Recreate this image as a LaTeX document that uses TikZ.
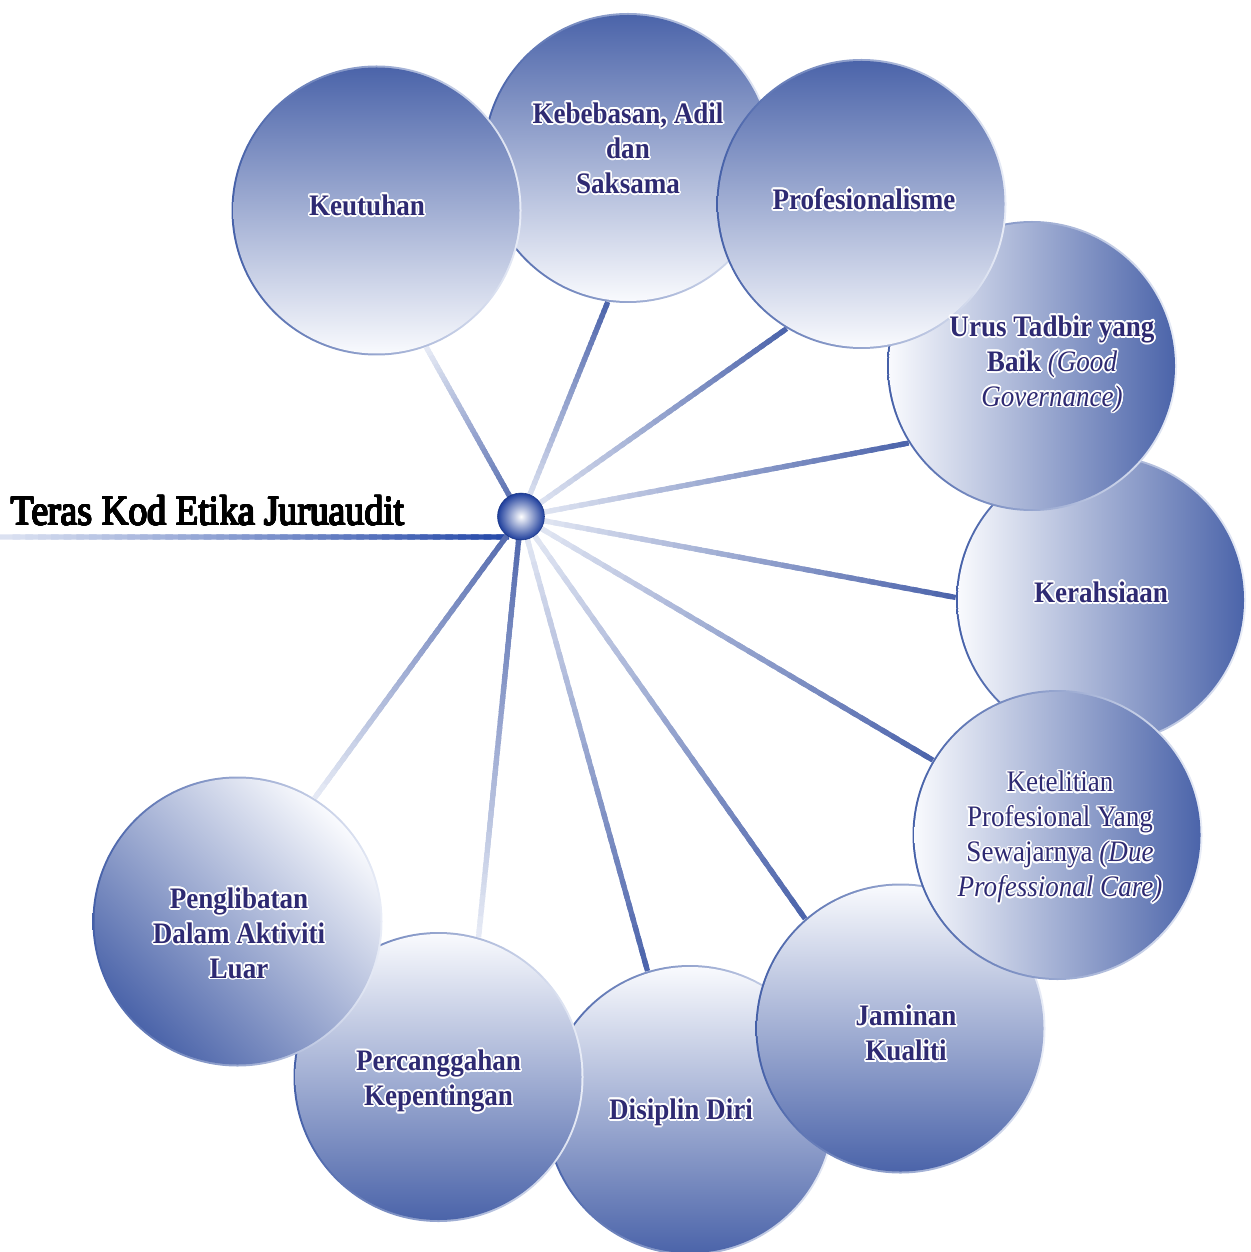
\documentclass[tikz,border=0pt]{standalone}
\usepackage{fontspec}
\setmainfont{Liberation Serif}
\usepackage[copies]{contour}
\usetikzlibrary{calc}
\usetikzlibrary{backgrounds}
\definecolor{bubbledark}{HTML}{4A63A9}
\definecolor{bubblelight}{HTML}{FAFBFE}
\definecolor{rimdark}{HTML}{4560A8}
\definecolor{rimlight}{HTML}{E9EDF7}
\definecolor{spokedark}{HTML}{4A62AA}
\definecolor{spokelight}{HTML}{E8ECF6}
\definecolor{titledark}{HTML}{2347A8}
\definecolor{titlelight}{HTML}{DDE3F2}
\definecolor{hubblue}{HTML}{1E3E9C}
\definecolor{textnavy}{HTML}{2E2A72}
\contourlength{0.9pt}
\newcommand{\ct}[1]{\scalebox{1}[1.1]{\contour{white}{#1}}}
\tikzstyle{bubbletext}=[text=textnavy, align=center, inner sep=0pt, font={\fontsize{15.4}{19.9}\selectfont\bfseries}]
\tikzstyle{spoke}=[line width=1.05mm, line cap=butt]
\tikzset{bubble/.style={circle, minimum size=5.8cm, inner sep=0pt, left color=rimdark, right color=rimlight,
    path picture={\shade[top color=bubbledark, bottom color=bubblelight, shading angle=#1] (path picture bounding box.center) circle (2.86);}}}
% gradient line: start, end, colour at start, colour at end
\newcommand{\spoke}[4]{%
  \foreach \i in {0,...,39}{
    \pgfmathsetmacro{\sa}{\i/40}
    \pgfmathsetmacro{\sb}{min(1,(\i+1.6)/40)}
    \pgfmathtruncatemacro{\pc}{100*(\i+0.5)/40}
    \draw[spoke, #4!\pc!#3] ($(#1)!\sa!(#2)$) -- ($(#1)!\sb!(#2)$);
  }}

\begin{document}
\begin{tikzpicture}

    \useasboundingbox (0,0) rectangle (25,-25.04);

    % circles, back to front
    \node[bubble=0] (kebebasan) at (12.56,-3.16) {};
    \node[bubble=0] (keutuhan) at (7.53,-4.21) {};
    \node[bubble=-90] (kerahsiaan) at (22.02,-12.00) {};
    \node[bubble=-90] (urus) at (20.64,-7.32) {};
    \node[bubble=0] (profesional) at (17.23,-4.08) {};
    \node[bubble=180] (disiplin) at (13.80,-22.20) {};
    \node[bubble=180] (jaminan) at (18.01,-20.57) {};
    \node[bubble=-90] (ketelitian) at (21.15,-16.70) {};
    \node[bubble=180] (percanggahan) at (8.77,-21.54) {};
    \node[bubble=135] (penglibatan) at (4.75,-18.43) {};

    % texts
    \node[bubbletext] (keutuhan-t) at ($(keutuhan)+(-0.19,0.09)$) {\ct{Keutuhan}};
    \node[bubbletext] (kebebasan-t) at ($(kebebasan)+(0,0.18)$) {\ct{Kebebasan, Adil}\\\ct{dan}\\\ct{Saksama}};
    \node[bubbletext] (profesional-t) at ($(profesional)+(0.05,0.08)$) {\ct{Profesionalisme}};
    \node[bubbletext] (urus-t) at ($(urus)+(0.40,0.02)$) {\ct{Urus Tadbir yang}\\\ct{Baik {\mdseries\itshape (Good}}\\\ct{\mdseries\itshape Governance)}};
    \node[bubbletext] (kerahsiaan-t) at ($(kerahsiaan)+(0,0.14)$) {\ct{Kerahsiaan}};
    \node[bubbletext, font={\fontsize{15.4}{19.9}\selectfont}] (ketelitian-t) at ($(ketelitian)+(0.05,-0.06)$)
        {\ct{Ketelitian}\\\ct{Profesional Yang}\\\ct{Sewajarnya \textit{(Due}}\\\ct{\itshape Professional Care)}};
    \node[bubbletext] (jaminan-t) at ($(jaminan)+(0.11,-0.11)$) {\ct{Jaminan}\\\ct{Kualiti}};
    \node[bubbletext] (disiplin-t) at ($(disiplin)+(-0.18,-0.06)$) {\ct{Disiplin Diri}};
    \node[bubbletext] (percanggahan-t) at ($(percanggahan)+(0,-0.1)$) {\ct{Percanggahan}\\\ct{Kepentingan}};
    \node[bubbletext] (penglibatan-t) at ($(penglibatan)+(0.03,-0.25)$) {\ct{Penglibatan}\\\ct{Dalam Aktiviti}\\\ct{Luar}};

    % title
    \node[anchor=base west, inner sep=0pt, font={\fontsize{21.4}{25}\selectfont}] (teras) at (0.22,-10.50)
        {\contourlength{0.35pt}\scalebox{1}[1.12]{\contour{black}{Teras Kod Etika Juruaudit}}};

    % centre ball
    \node[circle, minimum size=0.94cm, inner sep=0pt, inner color=white, outer color=hubblue, draw=hubblue!85!black, line width=0.3pt] (hub) at (10.42,-10.33) {};

    \begin{scope}[on background layer]
        \coordinate (teras-s) at (0,-10.74);
        \spoke{teras-s}{hub.240}{titlelight}{titledark}

        \spoke{hub}{keutuhan.290}{spokedark}{spokelight}
        \spoke{hub}{kebebasan.262}{spokelight}{spokedark}
        \spoke{hub}{profesional.239}{spokelight}{spokedark}
        \spoke{hub}{urus.212}{spokelight}{spokedark}
        \spoke{hub}{kerahsiaan.179}{spokelight}{spokedark}
        \spoke{hub}{ketelitian.149}{spokelight}{spokedark}
        \spoke{hub}{jaminan.131}{spokelight}{spokedark}
        \spoke{hub}{disiplin.107}{spokelight}{spokedark}
        \spoke{hub}{percanggahan.74}{spokedark}{spokelight}
        \spoke{hub}{penglibatan.58}{spokedark}{spokelight}
    \end{scope}

\end{tikzpicture}
\end{document}
